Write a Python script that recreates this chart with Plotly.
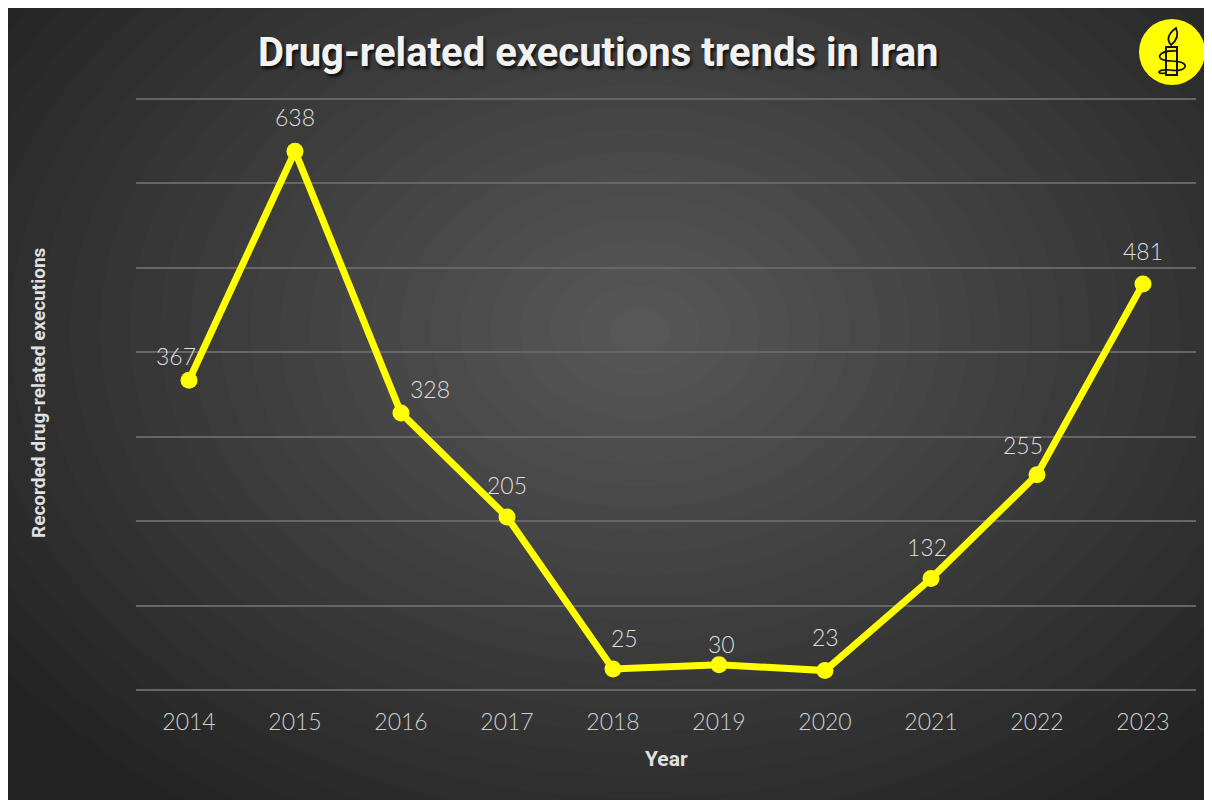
import plotly.graph_objects as go

years = ["2014", "2015", "2016", "2017", "2018", "2019", "2020", "2021", "2022", "2023"]
executions = [367, 638, 328, 205, 25, 30, 23, 132, 255, 481]
label_dx = [-13, 0, 29, 0, 11, 2, 0, -4, -14, 0]
label_dy = [24, 34, 24, 32, 31, 21, 34, 32, 30, 33]

# page body has an 8px margin, so the figure is drawn 8px in from the top-left
OFF = 8
W, H = 1212 - OFF, 800 - OFF
L, R, T, B = 128, 16, 89, 110
PW, PH = W - L - R, H - T - B

def px(x):
    return (x - OFF - L) / PW

def py(y):
    return (H - B - (y - OFF)) / PH

BOLD = "Roboto, Lato, Arial, sans-serif"
LIGHT = "Lato, Roboto, Helvetica, Arial, sans-serif"

shapes = []
# radial gradient via stacked translucent ellipses
cx, cy = 640, 330
N = 26
for k in range(N, 0, -1):
    f = k / N
    rx, ry = 780 * f, 580 * f
    shapes.append(dict(type="circle", xref="paper", yref="paper",
                       x0=px(cx - rx), x1=px(cx + rx), y0=py(cy + ry), y1=py(cy - ry),
                       fillcolor="rgba(255,255,255,0.0125)", line=dict(width=0), layer="below"))

# logo
lx, ly, lr = 1172, 52, 33
shapes.append(dict(type="circle", xref="paper", yref="paper", x0=px(lx - lr), x1=px(lx + lr),
                   y0=py(ly + lr), y1=py(ly - lr), fillcolor="#ffff00", line=dict(width=0), layer="above"))
shapes.append(dict(type="rect", xref="paper", yref="paper", x0=px(1166), x1=px(1177), y0=py(75), y1=py(47),
                   fillcolor="rgba(0,0,0,0)", line=dict(color="#111", width=2), layer="above"))
flame = "M {} {} Q {} {} {} {} Q {} {} {} {} Z".format(
    px(1171), py(45), px(1164), py(37), px(1176), py(28), px(1180), py(38), px(1171), py(45))
shapes.append(dict(type="path", xref="paper", yref="paper", path=flame,
                   fillcolor="rgba(0,0,0,0)", line=dict(color="#111", width=1.8), layer="above"))
wire = "M {} {} C {} {} {} {} {} {} C {} {} {} {} {} {} C {} {} {} {} {} {}".format(
    px(1177), py(51), px(1156), py(50), px(1154), py(61), px(1171), py(61),
    px(1192), py(61), px(1188), py(73), px(1170), py(70),
    px(1156), py(69), px(1156), py(75), px(1166), py(73))
shapes.append(dict(type="path", xref="paper", yref="paper", path=wire,
                   line=dict(color="#111", width=1.6), layer="above"))

fig = go.Figure()
fig.add_trace(go.Scatter(
    x=years, y=executions, mode="lines+markers",
    line=dict(color="#ffff00", width=7),
    marker=dict(color="#ffff00", size=17),
    hoverinfo="x+y", cliponaxis=False, showlegend=False,
))

annotations = []
for i, (v, dx, dy) in enumerate(zip(executions, label_dx, label_dy)):
    annotations.append(dict(x=i, y=v, xref="x", yref="y", text=str(v), showarrow=False,
                            xshift=dx, yshift=dy, xanchor="center", yanchor="middle",
                            font=dict(family=LIGHT, size=23, color="#dedede", weight=300)))

title = "Drug-related executions trends in Iran"
annotations.append(dict(x=px(598), y=py(53), xref="paper", yref="paper", text=title, showarrow=False,
                        xanchor="center", yanchor="middle",
                        font=dict(family=BOLD, size=40, color="#f2f2f2", weight="bold",
                                  shadow="2px 3px 3px rgba(0,0,0,0.7)")))
annotations.append(dict(x=px(666), y=py(759), xref="paper", yref="paper", text="Year", showarrow=False,
                        xanchor="center", yanchor="middle",
                        font=dict(family=BOLD, size=21, color="#e0e0e0", weight="bold")))
annotations.append(dict(x=px(38), y=py(393), xref="paper", yref="paper", text="Recorded drug-related executions",
                        showarrow=False, textangle=-90, xanchor="center", yanchor="middle",
                        font=dict(family=BOLD, size=19, color="#e0e0e0", weight="bold")))

fig.update_layout(
    width=W, height=H,
    margin=dict(l=L, r=R, t=T, b=B, pad=0),
    paper_bgcolor="#232323", plot_bgcolor="rgba(0,0,0,0)",
    shapes=shapes, annotations=annotations,
    xaxis=dict(type="category", range=[-0.5, 9.5], showgrid=False, zeroline=False, showline=False,
               ticks="", ticklabelstandoff=16,
               tickfont=dict(family=LIGHT, size=23, color="#cfcfcf", weight=300), fixedrange=True),
    yaxis=dict(range=[0, 702.4], tick0=0, dtick=100, showgrid=True, gridcolor="#666666", gridwidth=1.5,
               zeroline=True, zerolinecolor="#666666", zerolinewidth=1.5,
               showticklabels=False, ticks="", fixedrange=True),
)

fig.write_html("out.html")
